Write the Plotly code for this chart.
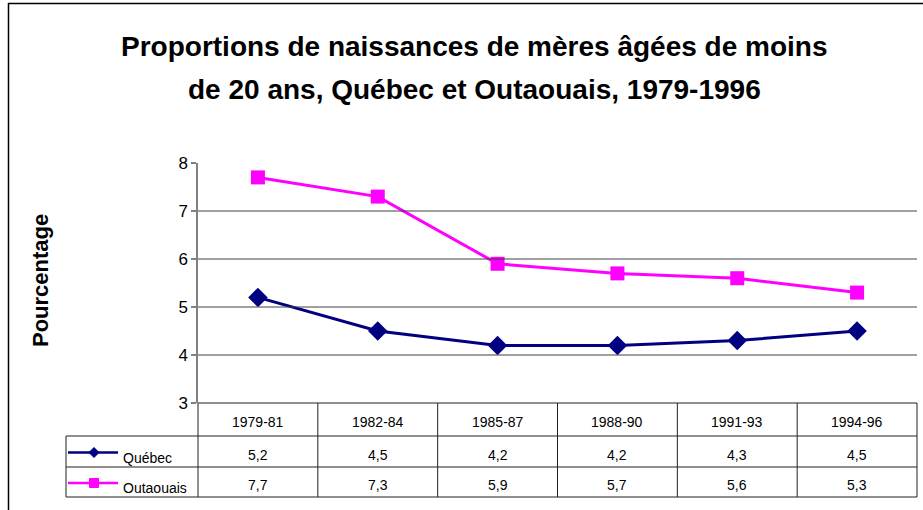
import plotly.graph_objects as go

# ---- data ----
periods = ["1979-81", "1982-84", "1985-87", "1988-90", "1991-93", "1994-96"]
quebec = [5.2, 4.5, 4.2, 4.2, 4.3, 4.5]
outaouais = [7.7, 7.3, 5.9, 5.7, 5.6, 5.3]
series_names = ["Québec", "Outaouais"]
y_ticks = [3, 4, 5, 6, 7, 8]
title_lines = ["Proportions de naissances de mères âgées de moins",
               "de 20 ans, Québec et Outaouais, 1979-1996"]
y_title = "Pourcentage"

W, H = 923, 510
L, R, T, B = 198, 917, 163, 403
PW, PH = R - L, B - T

def px(x):
    return (x - L) / PW

def py(y):
    return (B - y) / PH

NAVY = "#000080"
MAG = "#FF00FF"
FONT = "Liberation Sans, Arial, sans-serif"

def fmt(v):
    return f"{v:.1f}".replace(".", ",")

fig = go.Figure()
fig.add_trace(go.Scatter(x=periods, y=quebec, mode="lines+markers", name=series_names[0],
                         line=dict(color=NAVY, width=3),
                         marker=dict(symbol="diamond", size=15, color=NAVY),
                         cliponaxis=False))
fig.add_trace(go.Scatter(x=periods, y=outaouais, mode="lines+markers", name=series_names[1],
                         line=dict(color=MAG, width=3),
                         marker=dict(symbol="square", size=14, color=MAG),
                         cliponaxis=False))

shapes = []
annotations = []

# outer frame (left and top visible)
shapes.append(dict(type="line", xref="paper", yref="paper", x0=px(8.5), x1=px(8.5), y0=py(3), y1=py(515),
                   line=dict(color="black", width=1.5)))
shapes.append(dict(type="line", xref="paper", yref="paper", x0=px(8), x1=px(930), y0=py(3.5), y1=py(3.5),
                   line=dict(color="black", width=1.5)))

# gridlines
for t in y_ticks[1:-1]:
    shapes.append(dict(type="line", xref="paper", yref="y", x0=0, x1=1, y0=t, y1=t,
                       line=dict(color="#404040", width=1)))

# table geometry
rows = [403, 436, 467, 497]
leg_left = 66
ncat = len(periods)
line_c = "#202020"
shapes.append(dict(type="line", xref="paper", yref="paper", x0=0, x1=1, y0=py(rows[0]), y1=py(rows[0]),
                   line=dict(color=line_c, width=1)))
for r in rows[1:]:
    shapes.append(dict(type="line", xref="paper", yref="paper", x0=px(leg_left), x1=1, y0=py(r), y1=py(r),
                       line=dict(color=line_c, width=1)))
for i in range(ncat + 1):
    xx = i / ncat
    shapes.append(dict(type="line", xref="paper", yref="paper", x0=xx, x1=xx,
                       y0=py(rows[0]), y1=py(rows[3]), line=dict(color=line_c, width=1)))
shapes.append(dict(type="line", xref="paper", yref="paper", x0=px(leg_left), x1=px(leg_left),
                   y0=py(rows[1]), y1=py(rows[3]), line=dict(color=line_c, width=1)))

tfont = dict(size=14, color="black", family=FONT)
for p in periods:
    annotations.append(dict(x=p, xref="x", y=py((rows[0] + rows[1]) / 2 + 2.5), yref="paper",
                            yanchor="middle", text=p, showarrow=False, font=tfont))
for ri, (vals, nm, col, sym) in enumerate([(quebec, series_names[0], NAVY, "diamond"),
                                           (outaouais, series_names[1], MAG, "square")]):
    yc = (rows[ri + 1] + rows[ri + 2]) / 2
    for p, v in zip(periods, vals):
        annotations.append(dict(x=p, xref="x", y=py(yc + 3), yref="paper", yanchor="middle",
                                text=fmt(v), showarrow=False, font=tfont))
    cy = yc + 1
    shapes.append(dict(type="line", xref="paper", yref="paper", x0=px(68), x1=px(118), y0=py(cy), y1=py(cy),
                       line=dict(color=col, width=2.5)))
    cx = 94
    if sym == "diamond":
        s = 5
        path = (f"M {px(cx - s)},{py(cy)} L {px(cx)},{py(cy - s)} L {px(cx + s)},{py(cy)} "
                f"L {px(cx)},{py(cy + s)} Z")
        shapes.append(dict(type="path", xref="paper", yref="paper", path=path,
                           fillcolor=col, line=dict(color=col, width=1)))
    else:
        s = 4.5
        shapes.append(dict(type="rect", xref="paper", yref="paper", x0=px(cx - s), x1=px(cx + s),
                           y0=py(cy + s), y1=py(cy - s), fillcolor=col, line=dict(color=col, width=1)))
    annotations.append(dict(x=px(121), xref="paper", y=py(yc + 6), yref="paper", text=nm,
                            showarrow=False, xanchor="left", yanchor="middle", font=tfont))

# title
for ty, line in zip([47, 89], title_lines):
    annotations.append(dict(x=px(474), xref="paper", y=py(ty), yref="paper", yanchor="middle",
                            text=f"<b>{line}</b>", showarrow=False,
                            font=dict(size=28, color="black", family=FONT)))
# y title
annotations.append(dict(x=px(40), xref="paper", y=py(281), yref="paper", text=f"<b>{y_title}</b>",
                        textangle=-90, showarrow=False, xanchor="center", yanchor="middle",
                        font=dict(size=22, color="black", family=FONT)))

fig.update_layout(
    width=W, height=H,
    margin=dict(l=L, r=W - R, t=T, b=H - B),
    paper_bgcolor="white", plot_bgcolor="white",
    showlegend=False,
    shapes=shapes, annotations=annotations,
    xaxis=dict(range=[-0.5, ncat - 0.5], showgrid=False, showticklabels=False, ticks="",
               zeroline=False, showline=False, fixedrange=True),
    yaxis=dict(range=[3, 8], tickvals=y_ticks, showgrid=False, zeroline=False,
               showline=True, linecolor="#808080", linewidth=1.5,
               ticks="outside", ticklen=5, tickcolor="#808080", tickwidth=1.5,
               tickfont=dict(size=17, color="black", family=FONT), fixedrange=True),
)

fig.write_html("out.html", config={"displayModeBar": False},
               post_script="document.body.style.margin='0';document.body.style.overflow='hidden';")
